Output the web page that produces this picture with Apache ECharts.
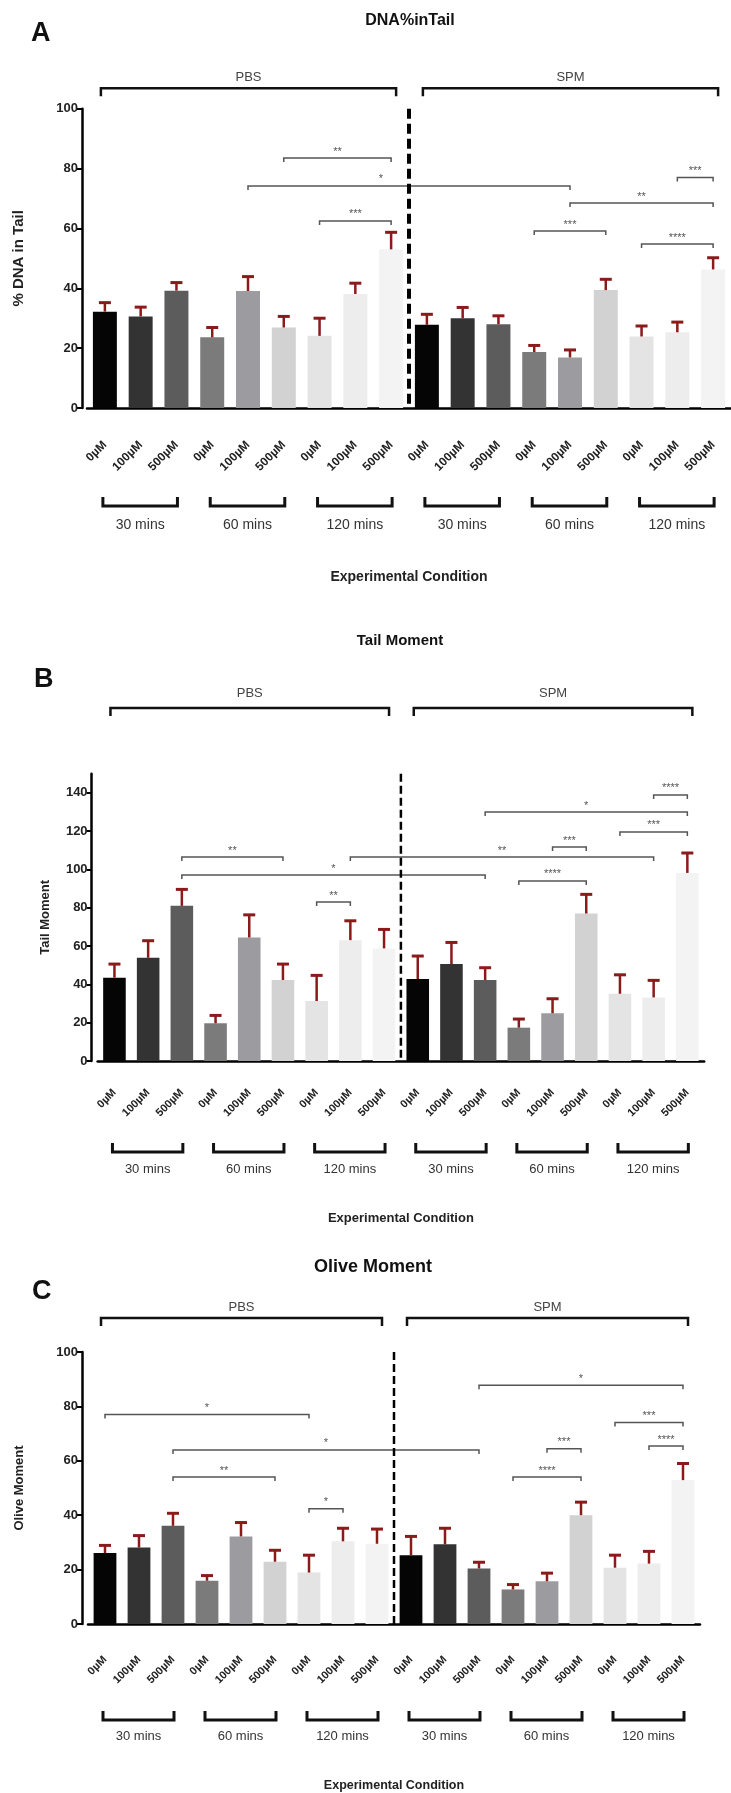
<!DOCTYPE html>
<html><head><meta charset="utf-8">
<script src="https://cdn.jsdelivr.net/npm/echarts@6/dist/echarts.min.js"></script>
<style>html,body{margin:0;padding:0;background:#fff}#c{width:731px;height:1793px}</style>
</head><body><div id="c"></div>
<script>
// ---------- DATA ----------
const concentrations = ['0µM', '100µM', '500µM'];
const categories = [];
for (let g = 0; g < 6; g++) categories.push(...concentrations);
const timeGroups = ['30 mins', '60 mins', '120 mins', '30 mins', '60 mins', '120 mins'];
const treatments = ['PBS', 'SPM'];

// Panel A: DNA % in tail
const dnaMean  = [32.2, 30.6, 39.2, 23.6, 39.1, 26.9, 24.1, 38.1, 53.0, 27.8, 30.0, 28.0, 18.7, 16.9, 39.4, 23.9, 25.3, 46.3];
const dnaUpper = [35.2, 33.7, 41.9, 26.9, 43.9, 30.6, 30.0, 41.7, 58.7, 31.3, 33.6, 30.8, 20.9, 19.4, 43.0, 27.4, 28.7, 50.2];
const dnaSig = [[5, 8, 83.5, '**'], [4, 13, 74.2, '*'], [16, 17, 77, '***'], [13, 17, 68.5, '**'], [6, 8, 62.5, '***'], [12, 14, 59.1, '***'], [15, 17, 54.8, '****']];
const dnaTicks = [0, 20, 40, 60, 80, 100];

// Panel B: Tail moment
const tmMean  = [43.5, 53.9, 81.0, 19.7, 64.5, 42.3, 31.3, 63.1, 58.8, 42.8, 50.6, 42.3, 17.4, 24.9, 77.0, 35.1, 33.2, 98.2];
const tmUpper = [50.6, 62.8, 89.6, 23.8, 76.3, 50.6, 44.7, 73.2, 68.7, 54.8, 61.9, 48.7, 21.9, 32.5, 87.0, 45.0, 42.1, 108.6];
const tmSig = [[16, 17, 138.9, '****'], [11, 17, 130, '*'], [15, 17, 119.6, '***'], [13, 14, 111.7, '***'], [2, 5, 106.5, '**'], [7, 16, 106.5, '**'], [2, 11, 97.1, '*'], [12, 14, 94, '****'], [6, 7, 83, '**']];
const tmTicks = [0, 20, 40, 60, 80, 100, 120, 140];

// Panel C: Olive moment
const omMean  = [26.1, 28.1, 36.1, 15.9, 32.2, 22.9, 18.9, 30.4, 29.5, 25.3, 29.3, 20.4, 12.7, 15.7, 40.0, 20.7, 22.2, 52.9];
const omUpper = [28.9, 32.5, 40.7, 17.8, 37.3, 27.1, 25.3, 35.2, 34.9, 32.2, 35.2, 22.7, 14.5, 18.7, 44.8, 25.3, 26.7, 59.0];
const omSig = [[11, 17, 87.8, '*'], [0, 6, 77, '*'], [15, 17, 74.1, '***'], [2, 11, 64, '*'], [13, 14, 64.4, '***'], [16, 17, 65.4, '****'], [2, 5, 54, '**'], [12, 14, 54, '****'], [6, 7, 42.4, '*']];
const omTicks = [0, 20, 40, 60, 80, 100];

// ---------- STYLE / LAYOUT ----------
const barColors = ['#050505', '#333333', '#5c5c5c', '#7b7b7b', '#9c9ca0', '#d2d2d2', '#e4e4e4', '#ededed', '#f3f3f3'];
const ERR = '#8b1a1a';
const FONT = "'Liberation Sans', Arial, sans-serif";
const NARROW = "'Liberation Sans Narrow', 'Liberation Sans', Arial, sans-serif";

const panels = [
  { mean: dnaMean, upper: dnaUpper, sig: dnaSig, ticks: dnaTicks, yMax: 100, yName: '% DNA in Tail',
    grid: { left: 87, top: 108.7, width: 644, height: 299.3 }, yOffset: 5, nameGap: 56, yNameSize: 15,
    labelMargin: 35, labelSize: 12, treatOff: [20.5, 31], timeOff: [89, 98, 117], timeSize: 14,
    xNameGap: 162, xNameSize: 14, divW: 4, divDash: [10, 5], sigShift: { 1: -28 } },
  { mean: tmMean, upper: tmUpper, sig: tmSig, ticks: tmTicks, yMax: 150, yName: 'Tail Moment',
    grid: { left: 97.6, top: 773.7, width: 606.6, height: 287.3 }, yOffset: 6, nameGap: 40, yNameSize: 13,
    labelMargin: 30, labelSize: 11, treatOff: [65.7, 80.7], timeOff: [82, 91, 108], timeSize: 13,
    xNameGap: 151, xNameSize: 13, divW: 2.5, divDash: [8, 4], sigShift: {} },
  { mean: omMean, upper: omUpper, sig: omSig, ticks: omTicks, yMax: 100, yName: 'Olive Moment',
    grid: { left: 88, top: 1352, width: 612, height: 278 }, yOffset: 6, nameGap: 56, yNameSize: 13,
    labelMargin: 34, labelSize: 11, treatOff: [34, 45], timeOff: [87, 96, 112], timeSize: 13,
    xNameGap: 155, xNameSize: 12.5, divW: 2.5, divDash: [8, 4], sigShift: {} }
];

const grids = [], xAxes = [], yAxes = [], series = [];
panels.forEach((p, k) => {
  grids.push(p.grid);
  xAxes.push({
    type: 'category', gridIndex: k, data: categories,
    name: 'Experimental Condition', nameLocation: 'middle', nameGap: p.xNameGap,
    nameTextStyle: { fontFamily: FONT, fontWeight: 'bold', fontSize: p.xNameSize, color: '#222' },
    axisLine: { lineStyle: { color: '#000', width: 2.5 } },
    axisTick: { alignWithLabel: true, length: 6, lineStyle: { color: '#000', width: 2 } },
    axisLabel: { interval: 0, rotate: 45, margin: p.labelMargin, fontFamily: FONT, fontWeight: 'bold', fontSize: p.labelSize, color: '#222' }
  });
  yAxes.push({
    type: 'value', gridIndex: k, min: 0, max: p.yMax, interval: 20, offset: p.yOffset,
    name: p.yName, nameLocation: 'middle', nameGap: p.nameGap,
    nameTextStyle: { fontFamily: FONT, fontWeight: 'bold', fontSize: p.yNameSize, color: '#222' },
    axisLine: { show: true, lineStyle: { color: '#000', width: 2.5 } },
    axisTick: { show: true, length: 5, customValues: p.ticks, lineStyle: { color: '#000', width: 2 } },
    axisLabel: { customValues: p.ticks, margin: 4, fontFamily: NARROW, fontWeight: 'bold', fontSize: 13, color: '#222' },
    splitLine: { show: false }
  });
  series.push({
    type: 'bar', xAxisIndex: k, yAxisIndex: k, barCategoryGap: '33%', silent: true, z: 2,
    data: p.mean.map((v, i) => ({ value: v, itemStyle: { color: barColors[i % 9] } }))
  });
  // error bars (upper only)
  series.push({
    type: 'custom', xAxisIndex: k, yAxisIndex: k, z: 3, silent: true, clip: false,
    data: p.mean.map((v, i) => [i, p.upper[i]]),
    renderItem: (params, api) => {
      const i = params.dataIndex;
      const a = api.coord([i, p.mean[i]]), b = api.coord([i, p.upper[i]]);
      return { type: 'group', children: [
        { type: 'line', shape: { x1: a[0], y1: a[1], x2: b[0], y2: b[1] }, style: { stroke: ERR, lineWidth: 2.5 } },
        { type: 'line', shape: { x1: b[0] - 6, y1: b[1], x2: b[0] + 6, y2: b[1] }, style: { stroke: ERR, lineWidth: 3 } }
      ] };
    }
  });
  // significance brackets
  series.push({
    type: 'custom', xAxisIndex: k, yAxisIndex: k, z: 4, silent: true, clip: false,
    data: p.sig.map(s => [s[0], s[2]]),
    renderItem: (params, api) => {
      const s = p.sig[params.dataIndex];
      const a = api.coord([s[0], s[2]]), b = api.coord([s[1], s[2]]);
      const shift = p.sigShift[params.dataIndex] || 0;
      return { type: 'group', children: [
        { type: 'polyline', shape: { points: [[a[0], a[1] + 4], [a[0], a[1]], [b[0], b[1]], [b[0], b[1] + 4]] },
          style: { stroke: '#555', lineWidth: 1.5, fill: null } },
        { type: 'text', x: (a[0] + b[0]) / 2 + shift, y: a[1] - 1,
          style: { text: s[3], fill: '#555', fontSize: 11, fontFamily: FONT, align: 'center', verticalAlign: 'bottom' } }
      ] };
    }
  });
  // dashed divider between PBS and SPM
  series.push({
    type: 'custom', xAxisIndex: k, yAxisIndex: k, z: 5, silent: true, clip: false,
    data: [[8, 0]],
    renderItem: (params, api) => {
      const a = api.coord([8, 0]), b = api.coord([9, 0]), t = api.coord([8, p.yMax]);
      const x = (a[0] + b[0]) / 2;
      return { type: 'line', shape: { x1: x, y1: t[1], x2: x, y2: a[1] },
        style: { stroke: '#000', lineWidth: p.divW, lineDash: p.divDash } };
    }
  });
  // treatment brackets (PBS / SPM) above plot
  series.push({
    type: 'custom', xAxisIndex: k, yAxisIndex: k, z: 5, silent: true, clip: false,
    data: treatments.map((t, j) => [9 * j, 0]),
    renderItem: (params, api) => {
      const j = params.dataIndex;
      const a = api.coord([9 * j, p.yMax]), b = api.coord([9 * j + 8, p.yMax]);
      const y = a[1] - p.treatOff[0], x1 = a[0] - 4, x2 = b[0] + 5;
      return { type: 'group', children: [
        { type: 'polyline', shape: { points: [[x1, y + 8], [x1, y], [x2, y], [x2, y + 8]] },
          style: { stroke: '#111', lineWidth: 2.5, fill: null } },
        { type: 'text', x: (x1 + x2) / 2, y: a[1] - p.treatOff[1],
          style: { text: treatments[j], fill: '#444', fontSize: 13, fontFamily: FONT, align: 'center', verticalAlign: 'middle' } }
      ] };
    }
  });
  // time group brackets below labels
  series.push({
    type: 'custom', xAxisIndex: k, yAxisIndex: k, z: 5, silent: true, clip: false,
    data: timeGroups.map((t, j) => [3 * j, 0]),
    renderItem: (params, api) => {
      const j = params.dataIndex;
      const a = api.coord([3 * j, 0]), b = api.coord([3 * j + 2, 0]);
      const x1 = a[0] - 2, x2 = b[0] + 1;
      const yt = a[1] + p.timeOff[0], yl = a[1] + p.timeOff[1];
      return { type: 'group', children: [
        { type: 'polyline', shape: { points: [[x1, yt], [x1, yl], [x2, yl], [x2, yt]] },
          style: { stroke: '#111', lineWidth: 3, fill: null } },
        { type: 'text', x: (x1 + x2) / 2, y: a[1] + p.timeOff[2],
          style: { text: timeGroups[j], fill: '#333', fontSize: p.timeSize, fontFamily: FONT, align: 'center', verticalAlign: 'middle' } }
      ] };
    }
  });
});

const txt = (text, x, y, size, align) => ({
  type: 'text', x, y, silent: true,
  style: { text, fontSize: size, fontWeight: 'bold', fontFamily: FONT, fill: '#111', align: align || 'center', verticalAlign: 'middle' }
});

const chart = echarts.init(document.getElementById('c'));
chart.setOption({
  animation: false,
  backgroundColor: '#fff',
  grid: grids, xAxis: xAxes, yAxis: yAxes, series,
  graphic: [
    txt('A', 31, 34, 27, 'left'), txt('DNA%inTail', 410, 21, 16),
    txt('B', 34, 680, 27, 'left'), txt('Tail Moment', 400, 641, 15),
    txt('C', 32, 1292, 27, 'left'), txt('Olive Moment', 373, 1267, 18)
  ]
});
</script></body></html>
